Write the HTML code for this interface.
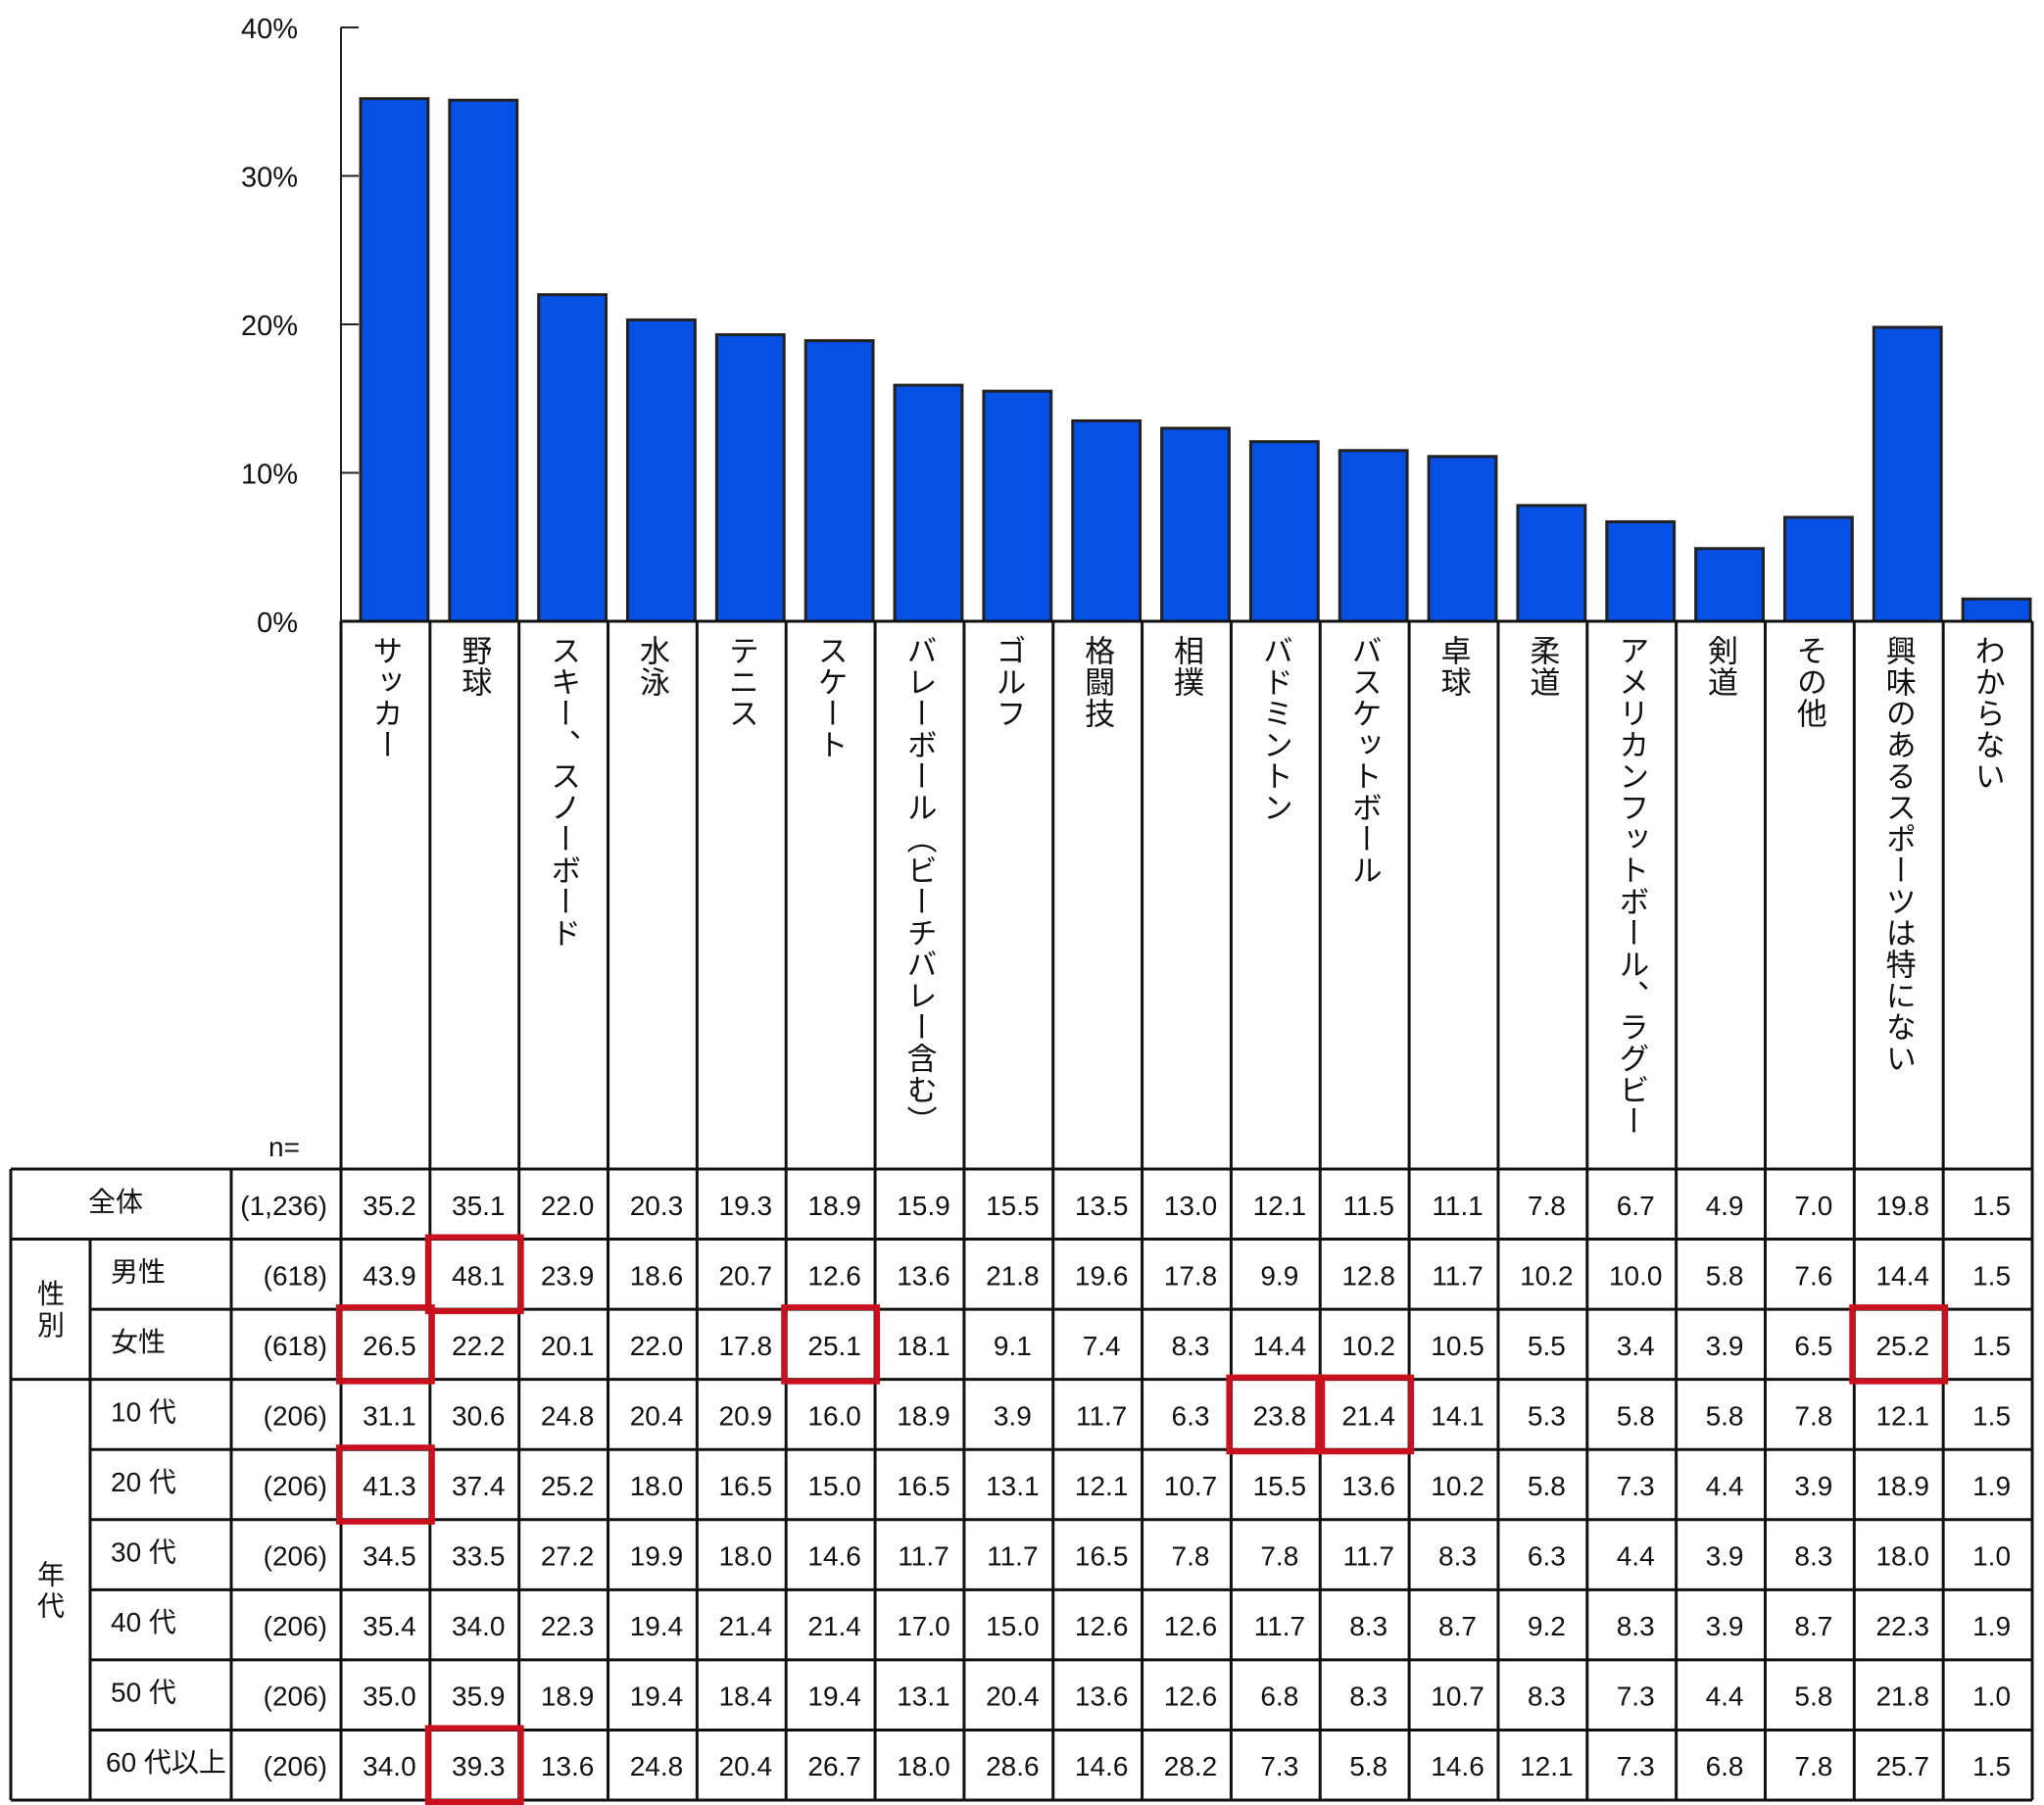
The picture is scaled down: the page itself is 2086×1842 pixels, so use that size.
<!DOCTYPE html>
<html><head><meta charset="utf-8">
<style>
html,body{margin:0;padding:0;background:#fff;}
#wrap{position:relative;width:2086px;height:1842px;overflow:hidden;font-family:"Liberation Sans","Noto Sans CJK JP",sans-serif;}
.vlab{position:absolute;writing-mode:vertical-rl;font-size:31px;line-height:1;color:#111;white-space:nowrap;letter-spacing:1px;}
</style></head>
<body>
<div id="wrap">
<svg id="svg" width="2086" height="1842" xmlns="http://www.w3.org/2000/svg"></svg>
</div>
<script>
const categories=["サッカー","野球","スキー、スノーボード","水泳","テニス","スケート","バレーボール（ビーチバレー含む）","ゴルフ","格闘技","相撲","バドミントン","バスケットボール","卓球","柔道","アメリカンフットボール、ラグビー","剣道","その他","興味のあるスポーツは特にない","わからない"];
const overallValues=[35.2,35.1,22.0,20.3,19.3,18.9,15.9,15.5,13.5,13.0,12.1,11.5,11.1,7.8,6.7,4.9,7.0,19.8,1.5];
const tickValues=[0,10,20,30,40];
const tickLabels=["0%","10%","20%","30%","40%"];
const rowLabels=["全体","男性","女性","10 代","20 代","30 代","40 代","50 代","60 代以上"];
const rowN=["(1,236)","(618)","(618)","(206)","(206)","(206)","(206)","(206)","(206)"];
const rowMale=[43.9,48.1,23.9,18.6,20.7,12.6,13.6,21.8,19.6,17.8,9.9,12.8,11.7,10.2,10.0,5.8,7.6,14.4,1.5];
const rowFemale=[26.5,22.2,20.1,22.0,17.8,25.1,18.1,9.1,7.4,8.3,14.4,10.2,10.5,5.5,3.4,3.9,6.5,25.2,1.5];
const row10=[31.1,30.6,24.8,20.4,20.9,16.0,18.9,3.9,11.7,6.3,23.8,21.4,14.1,5.3,5.8,5.8,7.8,12.1,1.5];
const row20=[41.3,37.4,25.2,18.0,16.5,15.0,16.5,13.1,12.1,10.7,15.5,13.6,10.2,5.8,7.3,4.4,3.9,18.9,1.9];
const row30=[34.5,33.5,27.2,19.9,18.0,14.6,11.7,11.7,16.5,7.8,7.8,11.7,8.3,6.3,4.4,3.9,8.3,18.0,1.0];
const row40=[35.4,34.0,22.3,19.4,21.4,21.4,17.0,15.0,12.6,12.6,11.7,8.3,8.7,9.2,8.3,3.9,8.7,22.3,1.9];
const row50=[35.0,35.9,18.9,19.4,18.4,19.4,13.1,20.4,13.6,12.6,6.8,8.3,10.7,8.3,7.3,4.4,5.8,21.8,1.0];
const row60=[34.0,39.3,13.6,24.8,20.4,26.7,18.0,28.6,14.6,28.2,7.3,5.8,14.6,12.1,7.3,6.8,7.8,25.7,1.5];
const highlights=[[1,1],[2,0],[2,5],[2,17],[3,10],[3,11],[4,0],[8,1]];

const NS="http://www.w3.org/2000/svg";
const svg=document.getElementById('svg');
const wrap=document.getElementById('wrap');
const X0=348, XR=2074, Y0=634, YTOP=28, VMAX=40;
const colW=(XR-X0)/categories.length;
const yS=v=>Y0-(v/VMAX)*(Y0-YTOP);
const xS=i=>X0+i*colW;
const TT=1193, RH=(1837-1193)/9;
function el(tag,attrs,parent){const e=document.createElementNS(NS,tag);for(const k in attrs)e.setAttribute(k,attrs[k]);(parent||svg).appendChild(e);return e;}
function txt(x,y,s,size,anchor){const t=el('text',{x:x,y:y,'font-size':size,'text-anchor':anchor||'middle','font-family':'"Liberation Sans","Noto Sans CJK JP",sans-serif',fill:'#111'});t.textContent=s;return t;}

// y axis
const ax=el('line',{x1:X0,y1:YTOP,x2:X0,y2:Y0,stroke:'#222','stroke-width':2});


tickValues.forEach((v,i)=>{
  const tk=el('line',{x1:X0,y1:yS(v),x2:X0+18,y2:yS(v),stroke:'#222','stroke-width':2});
  
  
  const t=txt(304,yS(v)+11,tickLabels[i],29,'end');
  
  
});
// bars
overallValues.forEach((v,i)=>{
  const x=xS(i)+20, w=colW-22;
  const r=el('rect',{x:x,y:yS(v),width:w,height:Y0-yS(v),fill:'#0650e6',stroke:'#222','stroke-width':3});
  
  
});
// baseline and column lines
el('line',{x1:X0,y1:Y0,x2:XR,y2:Y0,stroke:'#111','stroke-width':3});
for(let i=0;i<=categories.length;i++){
  const l=el('line',{x1:xS(i),y1:Y0,x2:xS(i),y2:1837,stroke:'#111','stroke-width':3});
  
  
}
// category labels
categories.forEach((c,i)=>{
  const d=document.createElement('div');
  d.className='vlab';
  d.textContent=c;
  d.style.left=(xS(i)+colW/2-16)+'px';
  d.style.top='648px';
  
  
  wrap.appendChild(d);
});
// n=
const nt=txt(290,1180,'n=',28,'middle');


// table grid
for(let r=0;r<=9;r++){
  const y=TT+r*RH;
  let x1=11;
  if(r===2||r>=4&&r<=8) x1=92;
  const l=el('line',{x1:x1,y1:y,x2:XR,y2:y,stroke:'#111','stroke-width':3});
  
  
}
el('line',{x1:11,y1:TT,x2:11,y2:1837,stroke:'#111','stroke-width':3});
el('line',{x1:92,y1:TT+RH,x2:92,y2:1837,stroke:'#111','stroke-width':3});
el('line',{x1:236,y1:TT,x2:236,y2:1837,stroke:'#111','stroke-width':3});
// group labels
const g1=txt(52,TT+RH*2-6,'性',28);
txt(52,TT+RH*2+26,'別',28);
const g2=txt(52,TT+RH*6-6,'年',28);
txt(52,TT+RH*6+26,'代',28);
const rows=[overallValues,rowMale,rowFemale,row10,row20,row30,row40,row50,row60];
rows.forEach((vals,r)=>{
  const cy=TT+r*RH+RH/2+11;
  const lab=r===0?txt(118,cy-4,rowLabels[r],28,'middle'):txt(r===8?108:113,cy-4,rowLabels[r],28,'start');
  
  
  const n=txt(334,cy,rowN[r],28,'end');
  
  
  vals.forEach((v,i)=>{
    const t=txt(xS(i)+colW/2+4,cy,v.toFixed(1),28,'middle');
    
    
  });
});
highlights.forEach(([r,c])=>{
  const h=el('rect',{x:xS(c)-2,y:TT+r*RH-2,width:colW+4,height:RH+4,fill:'none',stroke:'#c8101e','stroke-width':6});
  
  
});
</script>
</body></html>
